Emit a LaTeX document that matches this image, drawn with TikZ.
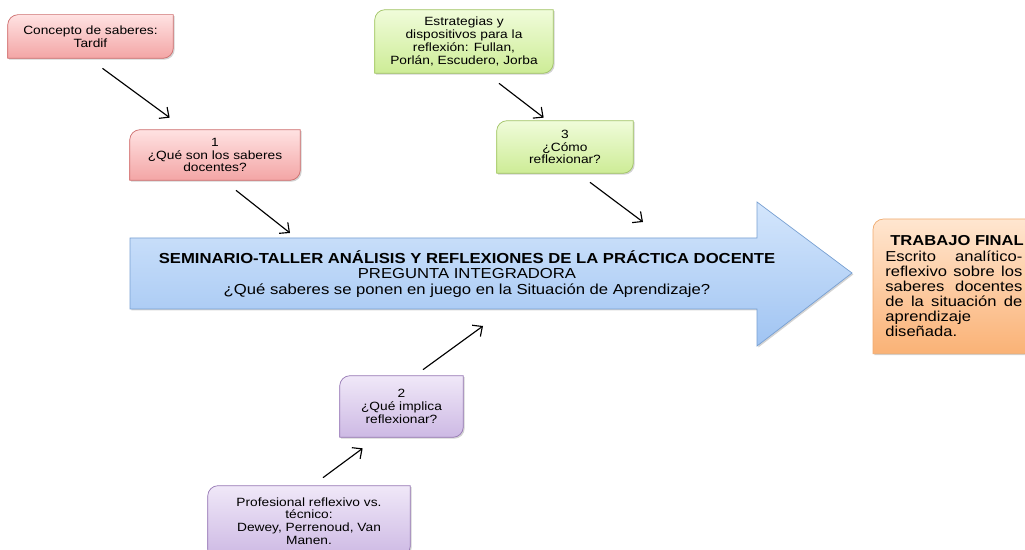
\documentclass[tikz,border=0pt]{standalone}
\usepackage{fontspec}
\setmainfont{Liberation Sans}[FakeStretch=1.15]
\usetikzlibrary{arrows.meta,positioning,calc,shadows}
\definecolor{redline}{RGB}{205,110,110}
\definecolor{redtop}{RGB}{255,226,226}
\definecolor{redbot}{RGB}{243,165,165}
\definecolor{greenline}{RGB}{160,195,100}
\definecolor{greentop}{RGB}{240,252,218}
\definecolor{greenbot}{RGB}{205,236,150}
\definecolor{purpleline}{RGB}{150,120,180}
\definecolor{purpletop}{RGB}{240,232,248}
\definecolor{purplebot}{RGB}{205,185,228}
\definecolor{blueline}{RGB}{120,160,210}
\definecolor{bluetop}{RGB}{212,230,252}
\definecolor{bluebot}{RGB}{160,196,242}
\definecolor{orangeline}{RGB}{240,170,110}
\definecolor{orangetop}{RGB}{255,230,208}
\definecolor{orangebot}{RGB}{250,178,118}
\pgfdeclarelayer{bg}
\pgfsetlayers{bg,main}
% frame with rounded top-left and bottom-right corners
\newcommand{\diagframe}[2]{%
  \begin{pgfonlayer}{bg}
  \draw[draw=#2line,top color=#2top,bottom color=#2bot,
    drop shadow={shadow xshift=0.8pt,shadow yshift=-0.8pt,opacity=0.35}]
    (#1.north east) -- (#1.east)
    {[rounded corners=6pt] -- (#1.south east) -- (#1.south)}
    -- (#1.south west) -- (#1.west)
    {[rounded corners=6pt] -- (#1.north west) -- (#1.north)} -- cycle;
  \end{pgfonlayer}}

\begin{document}
\begin{tikzpicture}[x=0.02cm,y=-0.02cm,
 font=\fontsize{6.8}{7.3}\selectfont,
 box/.style={align=center,inner sep=1pt},
 arr/.style={-{Straight Barb[length=1.5mm,width=2.8mm]},line width=0.65pt}]
\useasboundingbox (0,0) rectangle (1025,550);
% big arrow
\coordinate (body nw) at (130,238);
\coordinate (body sw) at (130,309);
\draw[draw=blueline,top color=bluetop,bottom color=bluebot,
  drop shadow={shadow xshift=0.8pt,shadow yshift=-0.8pt,opacity=0.35}]
  (body nw) -- (757,238) -- (757,202) -- (852,273) -- (757,346) -- (757,309) -- (body sw) -- cycle;
\node[align=center,font=\fontsize{8.25}{8.8}\selectfont] (seminario) at (467,274)
  {\textbf{SEMINARIO-TALLER ANÁLISIS Y REFLEXIONES DE LA PRÁCTICA DOCENTE}\\
   PREGUNTA INTEGRADORA\\
   ¿Qué saberes se ponen en juego en la Situación de Aprendizaje?};
% boxes
\node[box,minimum width=3.3cm,minimum height=0.86cm] (concepto) at (90.5,36.5) {Concepto de saberes:\\Tardif};
\node[box,minimum width=3.4cm,minimum height=1.0cm] (preg1) at (215,155) {1\\¿Qué son los saberes\\docentes?};
\node[box,minimum width=3.56cm,minimum height=1.26cm] (estrategias) at (464,41.5) {Estrategias y\\dispositivos para la\\reflexión: Fullan,\\Porlán, Escudero, Jorba};
\node[box,minimum width=2.72cm,minimum height=1.04cm] (preg3) at (565,147) {3\\¿Cómo\\reflexionar?};
\node[box,minimum width=2.46cm,minimum height=1.22cm] (preg2) at (401.5,406.5) {2\\¿Qué implica\\reflexionar?};
\node[box,minimum width=4.04cm,minimum height=1.4cm] (profesional) at (309,521) {Profesional reflexivo vs.\\técnico:\\Dewey, Perrenoud, Van\\Manen.};
\node[text width=2.74cm,align=justify,inner xsep=0.24cm,inner ysep=0pt,minimum height=2.68cm,
  font=\fontsize{8.2}{8.6}\selectfont,anchor=north west] (trabajo) at (873,219)
  {\makebox[\linewidth][l]{\hspace*{0.1cm}\textbf{TRABAJO FINAL}}\\ Escrito analítico-\linebreak reflexivo sobre los\linebreak
   saberes docentes\linebreak de la situación de\linebreak aprendizaje\\ diseñada.};
\diagframe{concepto}{red}
\diagframe{preg1}{red}
\diagframe{estrategias}{green}
\diagframe{preg3}{green}
\diagframe{preg2}{purple}
\diagframe{profesional}{purple}
\diagframe{trabajo}{orange}
% connectors
\draw[arr] ([shift={(12,10)}]concepto.south) -- ([shift={(40,-12)}]preg1.north west);
\draw[arr] ([shift={(21,10)}]preg1.south) -- ([shift={(160,-5)}]body nw);
\draw[arr] ([shift={(35,10)}]estrategias.south) -- ([shift={(47,-3)}]preg3.north west);
\draw[arr] ([shift={(25,9)}]preg3.south) -- ([shift={(513,-16)}]body nw);
\draw[arr] ([shift={(14,-8)}]profesional.north) -- ([shift={(23,11)}]preg2.south west);
\draw[arr] ([shift={(21.5,-6)}]preg2.north) -- ([shift={(353,17)}]body sw);
\end{tikzpicture}
\end{document}
